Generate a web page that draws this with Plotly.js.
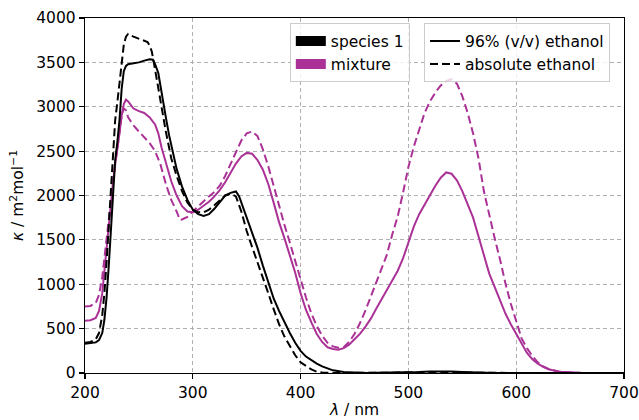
<!DOCTYPE html>
<html>
<head>
<meta charset="utf-8">
<script src="https://cdn.plot.ly/plotly-3.0.1.min.js"></script>
<style>html,body{margin:0;padding:0;background:#fff;}#chart{width:639px;height:420px;}</style>
</head>
<body>
<div id="chart"></div>
<script>
// species 1, 96% (v/v) ethanol
const wlS96 = [200,205,210,213,216,218,220,222,224,226,228,230,232,234,236,238,240,245,250,255,260,263,265,268,270,273,275,278,280,285,290,295,300,305,310,315,320,325,330,335,340,343,345,350,355,360,365,370,375,380,385,390,395,400,405,410,415,420,430,440,450,460,470,480,490,500,510,520,530,540,550,560,570,580,600,650,700];
const kS96 = [330,335,345,370,450,600,850,1200,1650,2100,2400,2600,2850,3200,3400,3460,3480,3490,3500,3520,3535,3530,3480,3380,3250,3050,2880,2680,2560,2300,2100,1950,1840,1790,1770,1790,1850,1930,2000,2030,2045,1990,1920,1745,1590,1410,1210,1020,840,700,565,450,340,250,185,140,105,75,30,12,4,1,2,3,5,8,12,18,20,18,12,6,3,1,0,0,0];
// species 1, absolute ethanol
const wlSabs = [200,205,210,213,216,218,220,222,224,226,228,230,232,234,236,238,240,245,250,255,258,260,262,265,268,270,273,275,280,285,290,295,300,305,310,315,320,325,330,335,340,345,350,355,360,365,370,375,380,385,390,395,400,405,410,415,420,430,440,500,520,530,540,560,600,700];
const kSabs = [340,350,380,450,650,900,1250,1650,2100,2500,2850,3050,3250,3500,3700,3790,3820,3790,3770,3750,3730,3690,3620,3420,3200,3050,2850,2720,2420,2220,2050,1920,1840,1810,1810,1840,1890,1950,2000,2020,1990,1820,1600,1420,1250,1085,900,720,550,410,300,200,120,75,40,15,5,0,0,5,10,12,10,4,0,0];
// mixture, 96% (v/v) ethanol
const wlM96 = [200,205,210,213,216,218,220,222,224,226,228,230,232,234,236,238,240,245,250,255,260,265,268,271,275,280,285,290,295,300,305,310,315,320,325,330,335,340,345,350,355,360,365,370,375,380,385,390,395,400,405,410,415,420,425,430,435,440,445,450,455,460,465,470,475,480,485,490,495,500,505,510,515,520,525,530,535,540,545,550,555,560,565,570,575,580,585,590,595,600,605,610,615,620,625,630,640,650,660,700];
const kM96 = [590,595,620,700,900,1150,1400,1700,1950,2150,2350,2500,2700,2900,3030,3080,3060,2980,2950,2930,2880,2800,2700,2540,2360,2160,2000,1880,1820,1810,1840,1880,1930,1990,2060,2150,2260,2360,2440,2480,2470,2400,2290,2130,1920,1700,1520,1330,1130,900,710,570,440,350,290,270,262,280,320,380,440,520,610,720,830,930,1040,1150,1290,1480,1650,1790,1900,2010,2110,2200,2260,2245,2170,2050,1900,1750,1540,1320,1120,970,820,670,550,440,320,225,155,105,68,42,15,5,2,0];
// mixture, absolute ethanol
const wlMabs = [200,205,210,213,216,218,220,222,224,226,228,230,232,234,236,238,240,245,250,255,260,265,270,275,280,285,288,290,295,300,305,310,315,320,325,330,335,340,345,350,355,360,365,370,375,380,385,390,395,400,405,410,415,420,425,430,435,440,445,450,455,460,465,470,475,480,485,490,495,500,505,510,515,520,525,530,535,540,545,550,555,560,565,570,575,580,585,590,595,600,605,610,615,620,625,630,640,650,660,700];
const kMabs = [750,755,790,880,1080,1300,1550,1780,1980,2150,2350,2550,2750,2900,2980,2960,2880,2790,2720,2660,2590,2500,2350,2130,1950,1820,1725,1730,1760,1820,1880,1940,1990,2040,2110,2220,2360,2500,2620,2700,2720,2670,2520,2330,2100,1870,1670,1470,1260,1050,850,670,530,420,340,300,285,290,350,440,560,700,860,1000,1160,1330,1560,1760,2030,2320,2550,2750,2930,3060,3160,3240,3290,3310,3260,3120,2930,2700,2420,2050,1780,1520,1280,1010,780,570,390,280,190,120,75,45,15,5,0,0];

const xTicks = [200,300,400,500,600,700];
const yTicks = [0,500,1000,1500,2000,2500,3000,3500,4000];
const speciesNames = ['species 1','mixture'];
const solventNames = ['96% (v/v) ethanol','absolute ethanol'];

const BLACK = '#000000';
const MAG = '#aa3296';
const FONT = 'DejaVu Sans, sans-serif';
const FS = 15.5;
const LW = 2;

const traces = [
  {x: wlM96, y: kM96, mode:'lines', line:{color:MAG, width:LW}, showlegend:false, hoverinfo:'skip'},
  {x: wlMabs, y: kMabs, mode:'lines', line:{color:MAG, width:LW, dash:'8px,4px'}, showlegend:false, hoverinfo:'skip'},
  {x: wlS96, y: kS96, mode:'lines', line:{color:BLACK, width:LW}, showlegend:false, hoverinfo:'skip'},
  {x: wlSabs, y: kSabs, mode:'lines', line:{color:BLACK, width:LW, dash:'8px,4px'}, showlegend:false, hoverinfo:'skip'},
  // legend 1: colour patches
  {x:[null], y:[null], mode:'lines', name: speciesNames[0], line:{color:BLACK, width:10}, legend:'legend'},
  {x:[null], y:[null], mode:'lines', name: speciesNames[1], line:{color:MAG, width:10}, legend:'legend'},
  // legend 2: line styles
  {x:[null], y:[null], mode:'lines', name: solventNames[0], line:{color:BLACK, width:LW}, legend:'legend2'},
  {x:[null], y:[null], mode:'lines', name: solventNames[1], line:{color:BLACK, width:LW, dash:'8px,4px'}, legend:'legend2'}
];

const axisCommon = {
  showline:true, mirror:true, linecolor:'#000', linewidth:1.2,
  ticks:'outside', ticklen:5, tickwidth:1.2, tickcolor:'#000',
  showgrid:true, gridcolor:'#b0b0b0', gridwidth:1, griddash:'4px,3px',
  zeroline:false, tickfont:{family:FONT, size:FS, color:'#000'}
};

const layout = {
  width:639, height:420,
  margin:{l:85, r:15, t:18, b:47},
  paper_bgcolor:'#fff', plot_bgcolor:'#fff',
  font:{family:FONT, size:FS, color:'#000'},
  xaxis: Object.assign({}, axisCommon, {
    range:[200,700], tickvals:xTicks, ticktext:xTicks.map(String),
    title:{text:'<i>λ</i> / nm', font:{family:FONT, size:FS, color:'#000'}, standoff:3}
  }),
  yaxis: Object.assign({}, axisCommon, {
    range:[0,4000], tickvals:yTicks, ticktext:yTicks.map(String),
    title:{text:'<i>κ</i> / m<sup>2</sup>mol<sup>−1</sup>', font:{family:FONT, size:FS, color:'#000'}, standoff:8}
  }),
  legend:{x:0.38, y:0.985, xanchor:'left', yanchor:'top', bgcolor:'rgba(255,255,255,0.8)',
          bordercolor:'#cccccc', borderwidth:1, font:{family:FONT, size:FS, color:'#000'}},
  legend2:{x:0.629, y:0.985, xanchor:'left', yanchor:'top', bgcolor:'rgba(255,255,255,0.8)',
          bordercolor:'#cccccc', borderwidth:1, font:{family:FONT, size:FS, color:'#000'}},
  showlegend:true
};

Plotly.newPlot('chart', traces, layout, {displayModeBar:false, staticPlot:true});
</script>
</body>
</html>
